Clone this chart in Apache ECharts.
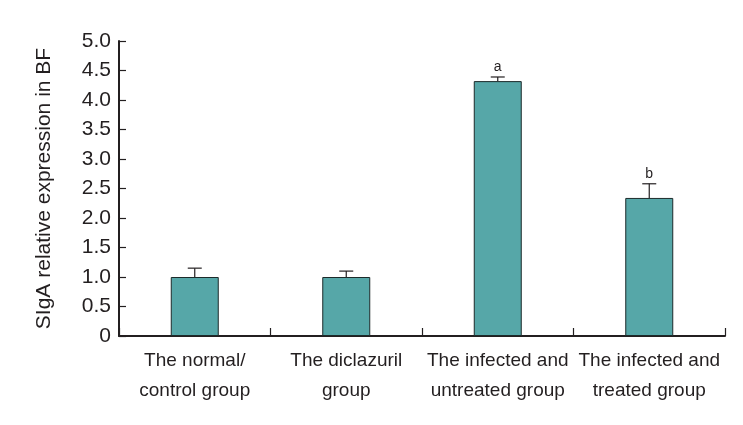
<!DOCTYPE html>
<html>
<head>
<meta charset="utf-8">
<script src="https://cdn.jsdelivr.net/npm/echarts@6/dist/echarts.min.js"></script>
<style>
html,body{margin:0;padding:0;background:#fff;}
#chart{width:743px;height:425px;}
</style>
</head>
<body>
<div id="chart"></div>
<script>
const categories = ['The normal/\ncontrol group', 'The diclazuril\ngroup', 'The infected and\nuntreated group', 'The infected and\ntreated group'];
const means = [1.0, 1.0, 4.32, 2.34];
const errors = [0.15, 0.10, 0.07, 0.24];
const letters = ['', '', 'a', 'b'];
const yTicks = [0, 0.5, 1.0, 1.5, 2.0, 2.5, 3.0, 3.5, 4.0, 4.5, 5.0];

const FONT = '"Liberation Sans", Arial, Helvetica, sans-serif';
const TEXT = '#231f20';

const chart = echarts.init(document.getElementById('chart'), null, {renderer: 'canvas'});

const errData = categories.map((c, i) => [i, means[i], means[i] + errors[i], letters[i]]);

chart.setOption({
  animation: false,
  backgroundColor: '#fff',
  grid: {left: 119, right: 18, top: 41, bottom: 89, containLabel: false},
  xAxis: {
    type: 'category',
    data: categories,
    boundaryGap: true,
    axisLine: {lineStyle: {color: '#231f20', width: 2}},
    axisTick: {show: true, inside: true, length: 8, lineStyle: {color: '#231f20', width: 1.2}},
    axisLabel: {
      interval: 0, margin: 10, fontFamily: FONT, fontSize: 19, lineHeight: 30,
      color: TEXT, align: 'center'
    },
    splitLine: {show: false}
  },
  yAxis: {
    type: 'value',
    min: yTicks[0], max: yTicks[yTicks.length - 1], interval: 0.5,
    name: 'SIgA relative expression in BF',
    nameLocation: 'middle',
    nameGap: 64,
    nameTextStyle: {fontFamily: FONT, fontSize: 21, color: TEXT},
    axisLine: {show: true, lineStyle: {color: '#231f20', width: 2}},
    axisTick: {show: true, inside: true, length: 7, lineStyle: {color: '#231f20', width: 1.2}},
    axisLabel: {
      margin: 8, fontFamily: FONT, fontSize: 21, color: TEXT,
      formatter: v => (v === 0 ? '0' : v.toFixed(1))
    },
    splitLine: {show: false}
  },
  series: [
    {
      type: 'bar',
      data: means,
      barWidth: 48,
      itemStyle: {color: '#56a7a8', borderColor: '#1c2a2a', borderWidth: 1}
    },
    {
      type: 'custom',
      data: errData,
      z: 5,
      renderItem: function (params, api) {
        const x = api.value(0);
        const top = api.coord([x, api.value(2)]);
        const base = api.coord([x, api.value(1)]);
        const half = 7;
        const children = [
          {type: 'line', shape: {x1: top[0], y1: base[1], x2: top[0], y2: top[1]},
           style: {stroke: '#231f20', lineWidth: 1.2}},
          {type: 'line', shape: {x1: top[0] - half, y1: top[1], x2: top[0] + half, y2: top[1]},
           style: {stroke: '#231f20', lineWidth: 1.2}}
        ];
        const lab = letters[params.dataIndex];
        if (lab) {
          children.push({type: 'text', x: top[0], y: top[1] - 3,
            style: {text: lab, fontFamily: FONT, fontSize: 14, fill: TEXT,
                    align: 'center', verticalAlign: 'bottom'}});
        }
        return {type: 'group', children: children};
      }
    }
  ]
});
</script>
</body>
</html>
